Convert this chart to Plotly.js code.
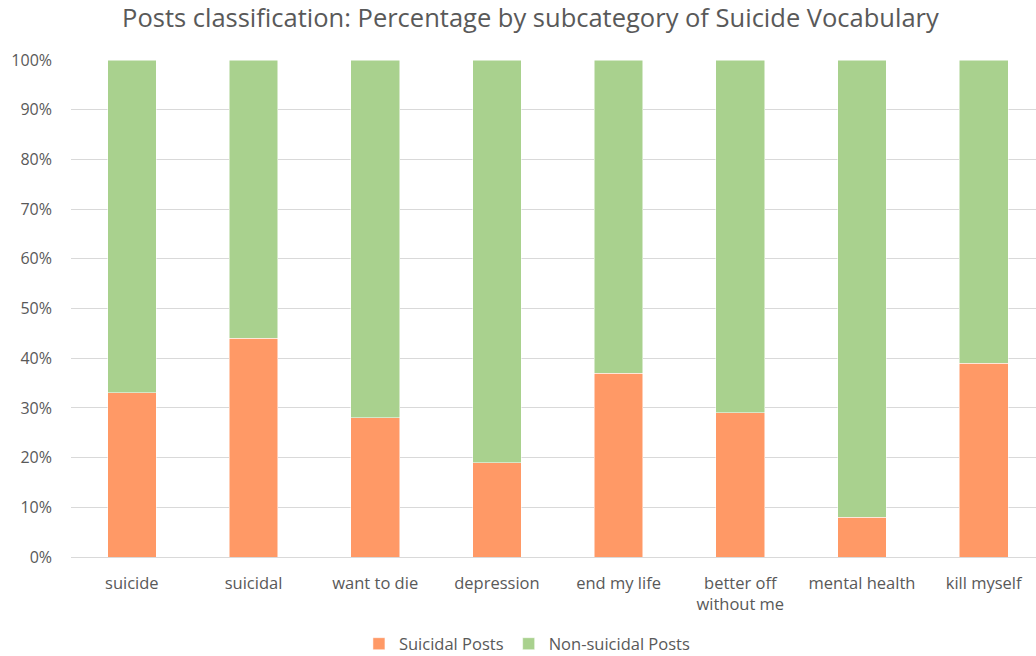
<!DOCTYPE html>
<html>
<head>
<meta charset="utf-8">
<script src="https://cdn.plot.ly/plotly-3.0.1.min.js"></script>
<style>
  html, body { margin: 0; padding: 0; background: #ffffff; }
  #chart { width: 1036px; height: 656px; }
</style>
</head>
<body>
<div id="chart"></div>
<script>
// Subcategories of suicide vocabulary
const categories = ["suicide", "suicidal", "want to die", "depression", "end my life",
                    "better off<br>without me", "mental health", "kill myself"];
// Share of posts (%) per subcategory
const suicidalPct = [33, 44, 28, 19, 37, 29, 8, 39];
const nonSuicidalPct = [67, 56, 72, 81, 63, 71, 92, 61];
const yTickVals = [0, 10, 20, 30, 40, 50, 60, 70, 80, 90, 100];
const yTickText = yTickVals.map(v => v + "%");

const textColor = "#595959";
const fontFamily = "'Open Sans', 'Noto Sans', sans-serif";

const traces = [
  {
    type: "bar", name: "Suicidal Posts",
    x: categories, y: suicidalPct,
    marker: { color: "#ff9966", line: { color: "#ffffff", width: 0.5 } },
    width: 0.4, hoverinfo: "x+y"
  },
  {
    type: "bar", name: "Non-suicidal Posts",
    x: categories, y: nonSuicidalPct,
    marker: { color: "#a9d18e", line: { color: "#ffffff", width: 0.5 } },
    width: 0.4, hoverinfo: "x+y"
  }
];

const layout = {
  width: 1036, height: 656,
  barmode: "stack",
  paper_bgcolor: "#ffffff", plot_bgcolor: "#ffffff",
  margin: { l: 71, r: 0, t: 60, b: 99, autoexpand: false },
  font: { family: fontFamily, color: textColor, size: 16 },
  title: {
    text: "Posts classification: Percentage by subcategory of Suicide Vocabulary",
    font: { family: fontFamily, size: 25.5, color: textColor },
    x: 0.512, xanchor: "center", y: 0.972, yanchor: "middle"
  },
  xaxis: {
    type: "category",
    range: [-0.5, 7.43],
    automargin: false,
    showgrid: false, zeroline: false, showline: false,
    ticks: "", ticklabelstandoff: 14,
    tickfont: { size: 16.5, color: textColor },
    fixedrange: true
  },
  yaxis: {
    range: [0, 100],
    automargin: false,
    tickvals: yTickVals, ticktext: yTickText,
    showgrid: true, gridcolor: "#d9d9d9", gridwidth: 1,
    zeroline: true, zerolinecolor: "#d9d9d9", zerolinewidth: 1,
    showline: false, ticks: "", ticklen: 0, ticklabelstandoff: 18,
    tickfont: { size: 16, color: textColor },
    fixedrange: true
  },
  legend: {
    orientation: "h", x: 0.473, xanchor: "center", y: -0.175, yanchor: "middle",
    font: { size: 16.5, color: textColor },
    itemwidth: 30, traceorder: "normal"
  },
  showlegend: true,
  bargap: 0.6
};

Plotly.newPlot("chart", traces, layout, { displayModeBar: false, staticPlot: true });
</script>
</body>
</html>
